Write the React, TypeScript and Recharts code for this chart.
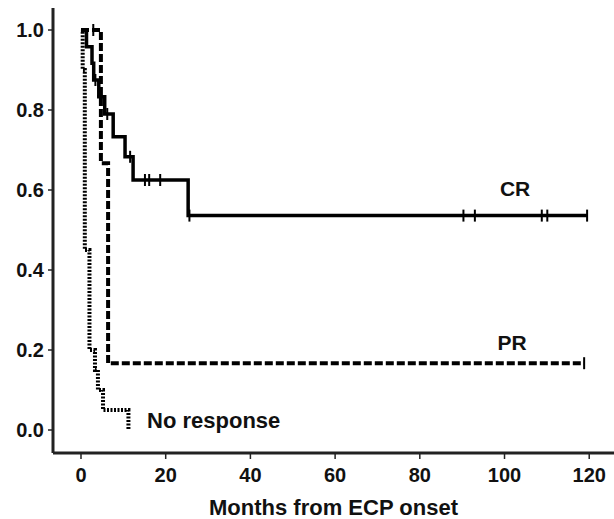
import React from 'react';
import { ComposedChart, Line, Scatter, XAxis, YAxis, ReferenceDot } from 'recharts';

// Complete response (CR)
const crTimes = [0, 1.3, 2.6, 3.0, 4.2, 5.6, 7.6, 10.4, 12.3, 25.3, 119.5];
const crSurv = [1.0, 0.958, 0.917, 0.875, 0.833, 0.79, 0.733, 0.683, 0.625, 0.536, 0.536];
const crCensorTimes = [3.4, 6.2, 11.6, 15.1, 16.1, 18.7, 25.6, 90.3, 93.0, 108.8, 110.1, 119.5];
const crCensorSurv = [0.875, 0.79, 0.683, 0.625, 0.625, 0.625, 0.536, 0.536, 0.536, 0.536, 0.536, 0.536];

// Partial response (PR)
const prTimes = [0, 4.7, 6.4, 118.8];
const prSurv = [1.0, 0.667, 0.167, 0.167];
const prCensorTimes = [2.9, 118.8];
const prCensorSurv = [1.0, 0.167];

// No response
const nrTimes = [0, 0.4, 0.9, 2.0, 3.3, 4.0, 5.2, 11.2];
const nrSurv = [1.0, 0.9, 0.45, 0.2, 0.15, 0.1, 0.05, 0.0];

const xTicks = [0, 20, 40, 60, 80, 100, 120];
const yTicks = [0, 0.2, 0.4, 0.6, 0.8, 1.0];

const toRows = (ts: number[], ss: number[]) => ts.map((t, i) => ({ t, s: ss[i] }));

const crData = toRows(crTimes, crSurv);
const prData = toRows(prTimes, prSurv);
const nrData = toRows(nrTimes, nrSurv);
const crCensor = toRows(crCensorTimes, crCensorSurv);
const prCensor = toRows(prCensorTimes, prCensorSurv);

const FONT = '"Liberation Sans", Arial, Helvetica, sans-serif';

const CensorMark = (props: any) => {
  const { cx, cy } = props;
  if (cx == null || cy == null) return null;
  return <line x1={cx} x2={cx} y1={cy - 6} y2={cy + 6} stroke="#000" strokeWidth={2} />;
};

const textLabel = (text: string, anchor: 'start' | 'middle', size: number) => (props: any) => {
  const vb = props.viewBox || {};
  return (
    <text
      x={vb.x}
      y={vb.y}
      textAnchor={anchor}
      dominantBaseline="central"
      fontFamily={FONT}
      fontWeight="bold"
      fontSize={size}
      fill="#111"
    >
      {text}
    </text>
  );
};

export default function App() {
  return (
    <div style={{ position: 'absolute', left: 0, top: 0, width: 614, height: 519, background: '#fff' }}>
      <ComposedChart width={614} height={519} margin={{ top: 8, right: 0, bottom: 0, left: 0 }}>
        <XAxis
          dataKey="t"
          type="number"
          domain={[-6.61, 125.85]}
          allowDataOverflow
          ticks={xTicks}
          interval={0}
          height={66}
          axisLine={{ stroke: '#222', strokeWidth: 3 }}
          tickLine={{ stroke: '#222', strokeWidth: 1.5 }}
          tickSize={6}
          tickMargin={9}
          tick={{ fontFamily: FONT, fontWeight: 'bold', fontSize: 20, fill: '#111' }}
          label={{
            value: 'Months from ECP onset',
            position: 'insideBottom',
            offset: 4,
            style: { fontFamily: FONT, fontWeight: 'bold', fontSize: 22, fill: '#111' },
          }}
        />
        <YAxis
          dataKey="s"
          type="number"
          domain={[-0.0575, 1.055]}
          allowDataOverflow
          ticks={yTicks}
          interval={0}
          width={53}
          axisLine={{ stroke: '#222', strokeWidth: 3 }}
          tickLine={{ stroke: '#222', strokeWidth: 1.5 }}
          tickSize={5}
          tickMargin={4}
          tickFormatter={(v: number) => v.toFixed(1)}
          tick={{ fontFamily: FONT, fontWeight: 'bold', fontSize: 20, fill: '#111' }}
        />
        <Line
          data={nrData}
          dataKey="s"
          type="stepAfter"
          stroke="#000"
          strokeWidth={4}
          strokeDasharray="2 1.5"
          dot={false}
          activeDot={false}
          isAnimationActive={false}
        />
        <Line
          data={prData}
          dataKey="s"
          type="stepAfter"
          stroke="#000"
          strokeWidth={4}
          strokeDasharray="8 3"
          dot={false}
          activeDot={false}
          isAnimationActive={false}
        />
        <Line
          data={crData}
          dataKey="s"
          type="stepAfter"
          stroke="#000"
          strokeWidth={3.5}
          dot={false}
          activeDot={false}
          isAnimationActive={false}
        />
        <Scatter data={crCensor} dataKey="s" shape={CensorMark} isAnimationActive={false} />
        <Scatter data={prCensor} dataKey="s" shape={CensorMark} isAnimationActive={false} />
        <ReferenceDot x={102.5} y={0.605} r={0} fill="none" stroke="none" label={textLabel('CR', 'middle', 21)} />
        <ReferenceDot x={101.8} y={0.22} r={0} fill="none" stroke="none" label={textLabel('PR', 'middle', 21)} />
        <ReferenceDot x={15.6} y={0.025} r={0} fill="none" stroke="none" label={textLabel('No response', 'start', 22)} />
      </ComposedChart>
    </div>
  );
}
